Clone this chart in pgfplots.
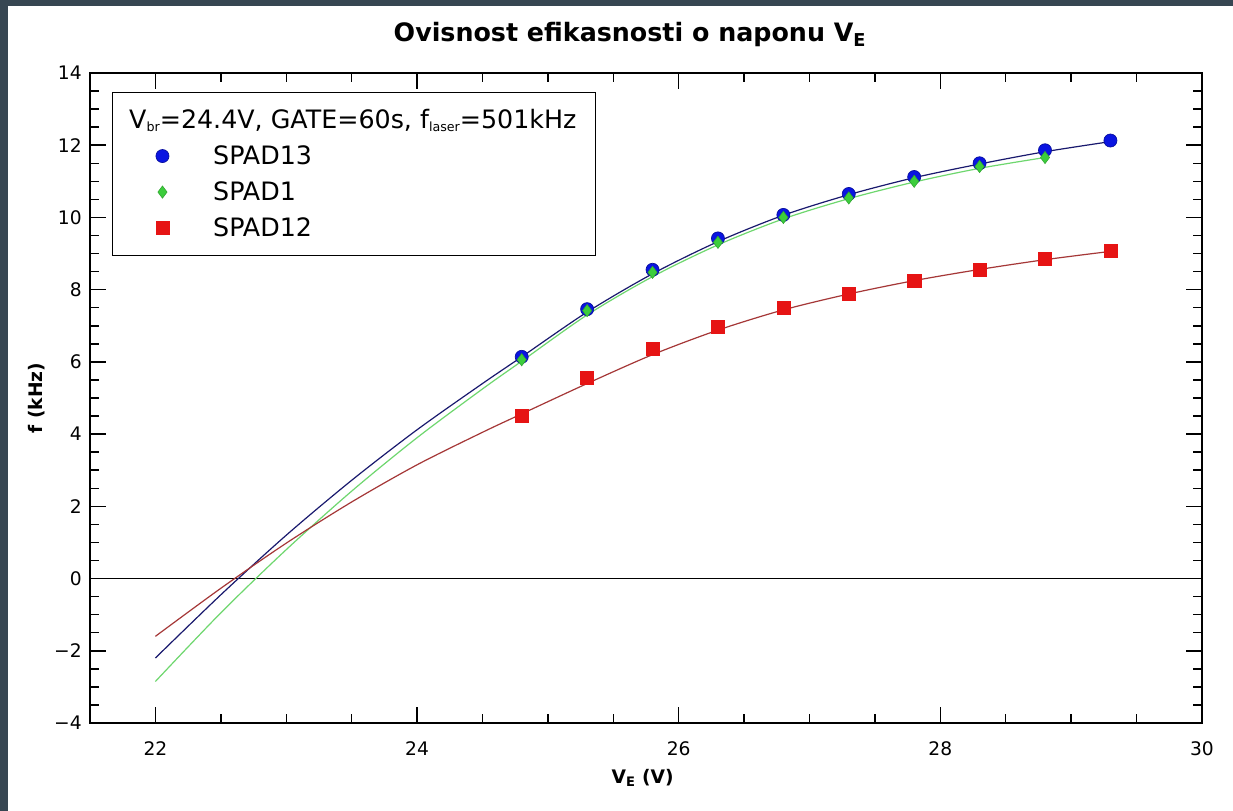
\documentclass[border=0pt]{standalone}
\usepackage{fontspec}
\setmainfont{DejaVu Sans}
\usepackage{pgfplots}
\pgfplotsset{compat=1.18}
\definecolor{bord}{RGB}{55,70,82}
\definecolor{bmark}{RGB}{10,20,225}
\definecolor{bline}{RGB}{25,25,110}
\definecolor{gmark}{RGB}{60,205,60}
\definecolor{gline}{RGB}{110,215,110}
\definecolor{rmark}{RGB}{230,20,20}
\definecolor{rline}{RGB}{165,55,55}
\newcommand\lsub[1]{\raisebox{-2pt}{\fontsize{9.5}{10}\selectfont #1}}
\begin{document}
\begin{tikzpicture}
\fill[bord] (0,0) rectangle (924.75pt,608.25pt);
\fill[white] (6pt,0) rectangle (924.75pt,603.75pt);
\path[use as bounding box] (0,0) rectangle (924.75pt,608.25pt);
\node[font=\fontsize{19}{22}\selectfont\bfseries] at (472.5pt,582pt) {Ovisnost efikasnosti o naponu V\textsubscript{E}};
\begin{axis}[
  at={(67.5pt,66pt)}, anchor=south west,
  width=834pt, height=487.5pt, scale only axis,
  xmin=21.5, xmax=30, ymin=-4, ymax=14,
  xtick={22,24,26,28,30},
  ytick={-4,-2,0,2,4,6,8,10,12,14},
  yticklabels={−4,−2,0,2,4,6,8,10,12,14},
  minor x tick num=3, minor y tick num=3,
  major tick length=12pt, minor tick length=6.75pt,
  tick align=inside,
  axis line style={line width=1.1pt},
  every tick/.style={black, line width=1.1pt},
  tick label style={font=\fontsize{14}{16}\selectfont},
  /pgf/number format/assume math mode=true,
  yticklabel style={inner sep=0pt, anchor=east, xshift=-6pt},
  xticklabel style={inner sep=0pt, anchor=north, yshift=-13.5pt},
  xlabel={V\textsubscript{E} (V)},
  ylabel={f (kHz)},
  label style={font=\fontsize{14}{16}\selectfont\bfseries},
  xlabel style={at={(axis description cs:0.497,0)}, anchor=center, yshift=-41.25pt},
  ylabel style={at={([xshift=-39.75pt]axis description cs:0,0.5)}, anchor=center, rotate=0},
  legend cell align=left,
  legend image code/.code={\path (0pt,0pt) (74.25pt,0pt); \draw[#1] plot coordinates {(36.75pt,0pt)};},
  legend style={at={(axis description cs:0,1)}, anchor=north west, xshift=16.5pt, yshift=-14.25pt,
    draw=black, line width=1.1pt, inner xsep=0pt, inner ysep=7pt, row sep=0pt, column sep=0pt,
    font=\fontsize{19}{22}\selectfont,
    nodes={inner sep=0pt, text height=20pt, text depth=7pt}},
]
\addplot[black, line width=1.1pt, forget plot] coordinates {(21.5,0) (30,0)};
\addlegendimage{empty legend}
\addlegendentry{\hspace*{-63pt}V\lsub{br}=24.4V, GATE=60s, f\lsub{laser}=501kHz\hspace*{14.25pt}}
\addplot[only marks, mark=*, mark size=4.9pt, mark options={fill=bmark, draw=bmark!70!black, line width=0.5pt}] coordinates {
(24.8,6.14) (25.3,7.46) (25.8,8.55) (26.3,9.42) (26.8,10.07) (27.3,10.65) (27.8,11.12) (28.3,11.5) (28.8,11.86) (29.3,12.13)};
\addlegendentry{SPAD13}
\addplot[only marks, mark=diamond*, mark size=4.6pt, mark options={fill=gmark, draw=gmark!80!black, line width=0.4pt}] coordinates {
(24.8,6.06) (25.3,7.42) (25.8,8.48) (26.3,9.31) (26.8,10.0) (27.3,10.54) (27.8,11.0) (28.3,11.41) (28.8,11.66)};
\addlegendentry{SPAD1}
\addplot[only marks, mark=square*, mark size=4.9pt, mark options={fill=rmark, draw=rmark, line width=0.3pt}] coordinates {
(24.8,4.5) (25.3,5.55) (25.8,6.36) (26.3,6.97) (26.8,7.49) (27.3,7.9) (27.8,8.24) (28.3,8.55) (28.8,8.85) (29.3,9.07)};
\addlegendentry{SPAD12}
\addplot[gline, line width=0.9pt, smooth, forget plot] coordinates {
(22.0,-2.85) (22.5,-0.95) (23.0,0.8) (23.5,2.42) (24.0,3.9) (24.5,5.25) (24.8,6.02) (25.3,7.3) (25.8,8.36) (26.3,9.24) (26.8,9.96) (27.3,10.52) (27.8,10.98) (28.3,11.36) (28.8,11.66)};
\addplot[bline, line width=0.9pt, smooth, forget plot] coordinates {
(22.0,-2.2) (22.5,-0.45) (23.0,1.2) (23.5,2.72) (24.0,4.12) (24.5,5.4) (24.8,6.14) (25.3,7.38) (25.8,8.44) (26.3,9.33) (26.8,10.06) (27.3,10.63) (27.8,11.1) (28.3,11.48) (28.8,11.82) (29.3,12.1)};
\addplot[rline, line width=0.9pt, smooth, forget plot] coordinates {
(22.0,-1.6) (22.5,-0.27) (23.0,0.98) (23.5,2.12) (24.0,3.15) (24.5,4.05) (24.8,4.56) (25.3,5.4) (25.8,6.2) (26.3,6.88) (26.8,7.44) (27.3,7.88) (27.8,8.25) (28.3,8.56) (28.8,8.83) (29.3,9.06)};
\end{axis}
\end{tikzpicture}
\end{document}
